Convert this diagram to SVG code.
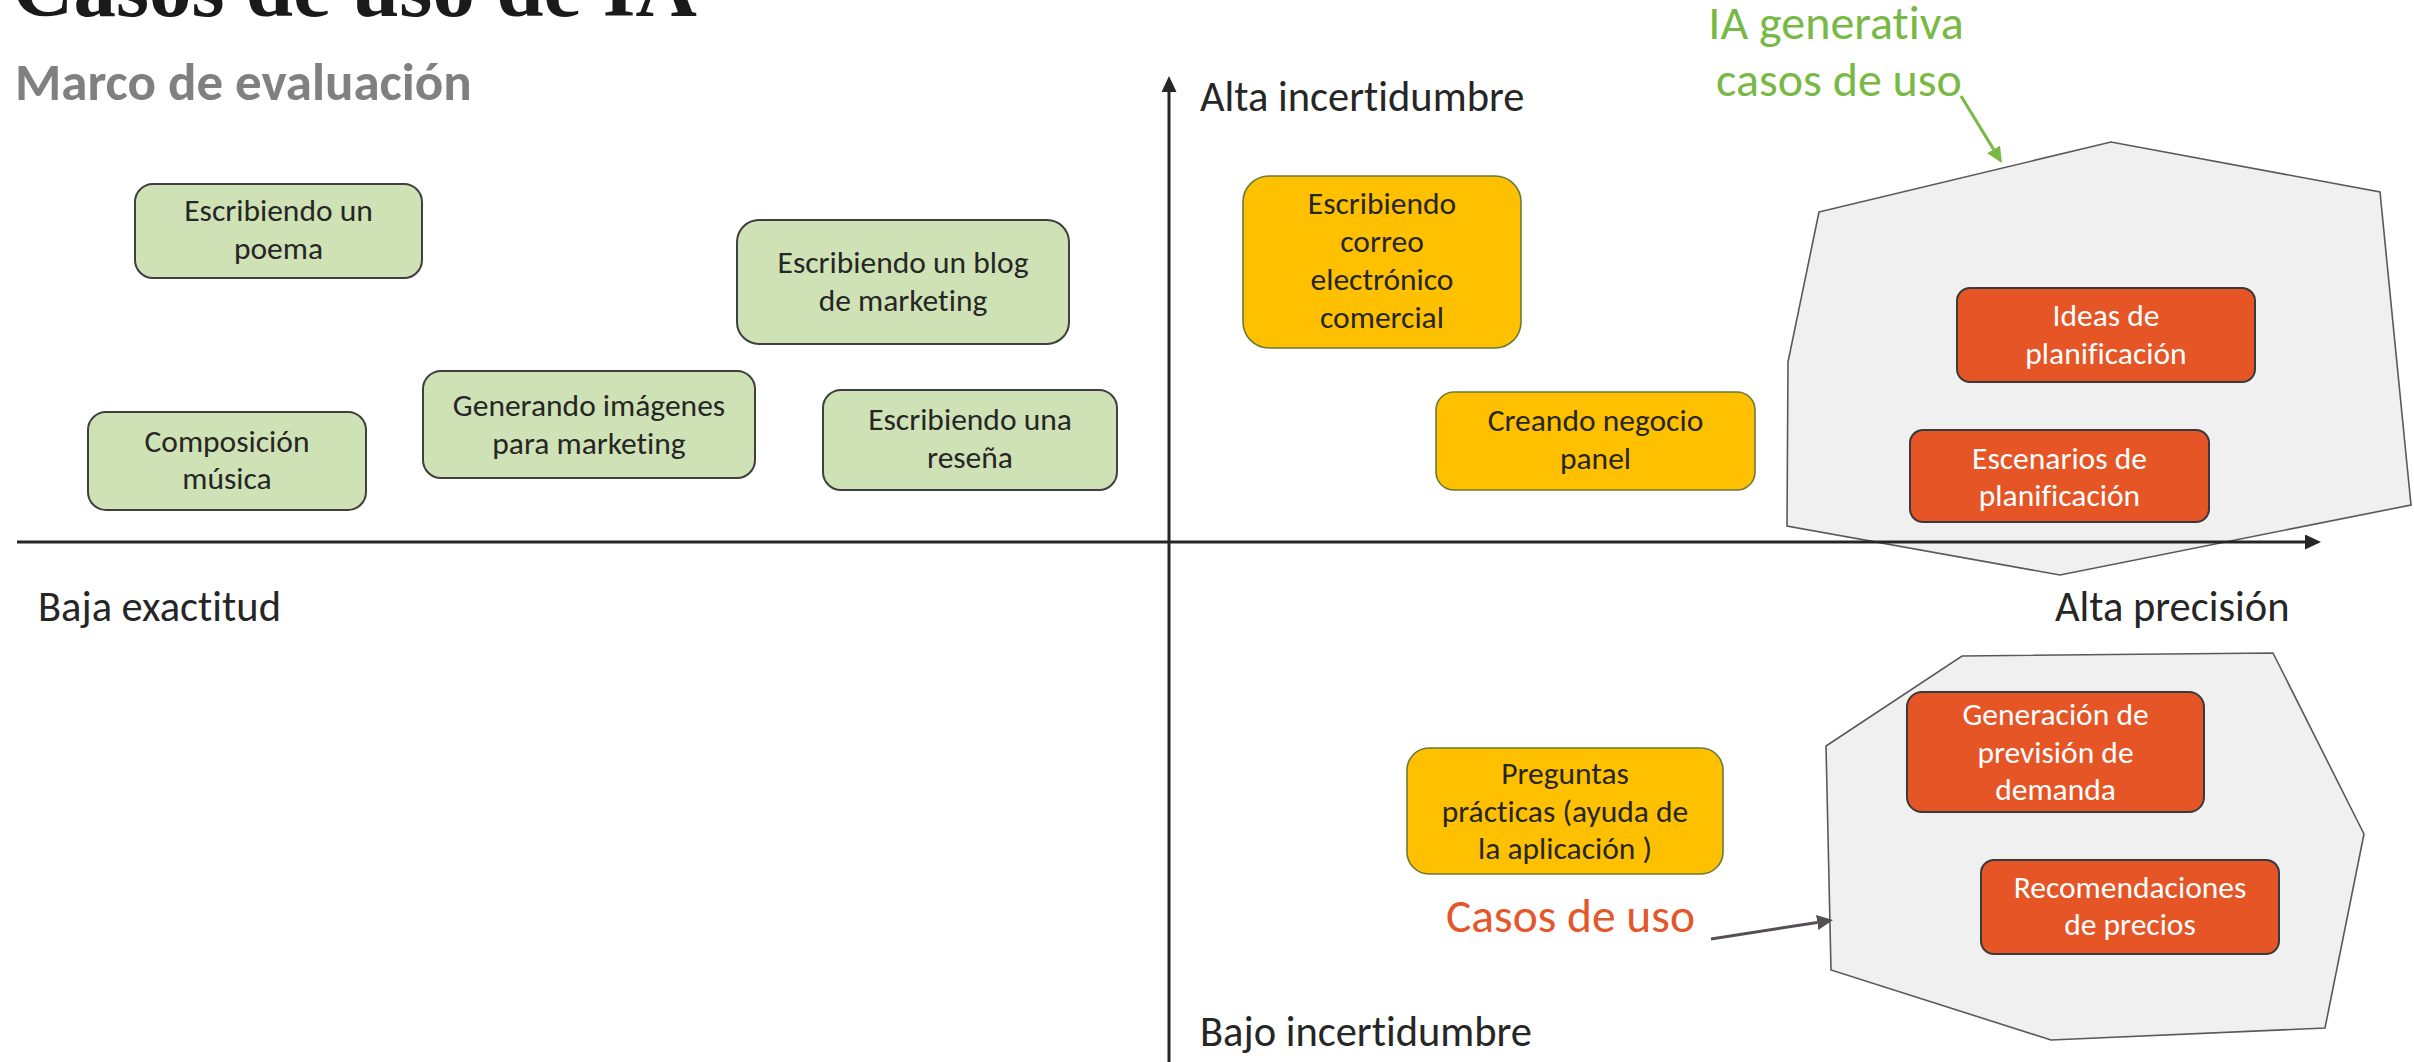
<svg xmlns="http://www.w3.org/2000/svg" width="2414" height="1062" viewBox="0 0 2414 1062">
<style>
  .t { font-family: Carlito, Lato, "Open Sans", sans-serif; fill: #262626; font-variant-ligatures: none; }
  .box { font-size: 31.5px; text-anchor: middle; }
  .axl { font-size: 42.5px; }
  .g rect { fill: #cfe2b5; stroke: #3f3f3f; stroke-width: 2; }
  .o rect { fill: #ffc000; stroke: #6b7a38; stroke-width: 1.6; }
  .r rect { fill: #e55526; stroke: #3a3a3a; stroke-width: 2; }
  .r text { fill: #ffffff; }
  .poly { fill: #f0f0f0; stroke: #595959; stroke-width: 1.6; }
  .axis { stroke: #262626; stroke-width: 3; fill: none; }
</style>
<defs>
  <marker id="ahK" markerUnits="userSpaceOnUse" markerWidth="16" markerHeight="15" refX="0" refY="7.5" orient="auto">
    <path d="M0,0 L16,7.5 L0,15 z" fill="#262626"/>
  </marker>
  <marker id="ahG" markerUnits="userSpaceOnUse" markerWidth="16" markerHeight="15" refX="0" refY="7.5" orient="auto">
    <path d="M0,0 L16,7.5 L0,15 z" fill="#78b946"/>
  </marker>
  <marker id="ahP" markerUnits="userSpaceOnUse" markerWidth="16" markerHeight="15" refX="0" refY="7.5" orient="auto">
    <path d="M0,0 L16,7.5 L0,15 z" fill="#574d55"/>
  </marker>
</defs>
<rect width="2414" height="1062" fill="#ffffff"/>

<text x="12" y="16" font-family="'Liberation Serif', serif" font-weight="bold" font-size="85" fill="#1a1a1a">Casos de uso de IA</text>
<text class="t" x="15" y="100" font-size="53" font-weight="bold" style="fill:#808080">Marco de evaluación</text>

<g id="zone-generative">
  <polygon class="poly" points="1819,212 2111,142 2380,192 2411,505 2060,575 1787,526 1788,362"/>
</g>
<g id="zone-usecases">
  <polygon class="poly" points="1962,656 2273,653 2364,834 2325,1028 2051,1040 1831,970 1826,746"/>
</g>

<g id="connectors">
  <line class="axis" x1="17" y1="542" x2="2305" y2="542" marker-end="url(#ahK)"/>
  <line class="axis" x1="1169" y1="1062" x2="1169" y2="92" marker-end="url(#ahK)"/>
  <line x1="1961" y1="96" x2="1993.6" y2="149.4" stroke="#78b946" stroke-width="3" marker-end="url(#ahG)"/>
  <line x1="1711" y1="939" x2="1817.2" y2="922.5" stroke="#574d55" stroke-width="3" marker-end="url(#ahP)"/>
</g>

<g id="axis-labels" class="t axl">
  <text x="1200" y="111">Alta incertidumbre</text>
  <text x="38" y="621">Baja exactitud</text>
  <text x="2055" y="621">Alta precisión</text>
  <text x="1200" y="1046">Bajo incertidumbre</text>
</g>

<g id="label-genai" class="t" font-size="48" text-anchor="middle" style="fill:#78b946">
  <text x="1836" y="39">IA generativa</text>
  <text x="1839" y="96">casos de uso</text>
</g>
<g id="label-casos" class="t" font-size="47.5" style="fill:#e5562a">
  <text x="1446" y="932">Casos de uso</text>
</g>

<g id="n-poema" class="g">
  <rect x="135" y="184" width="287" height="94" rx="18"/>
  <text class="t box" x="278.5" y="221">Escribiendo un</text>
  <text class="t box" x="278.5" y="259">poema</text>
</g>
<g id="n-musica" class="g">
  <rect x="88" y="412" width="278" height="98" rx="18"/>
  <text class="t box" x="227" y="452">Composición</text>
  <text class="t box" x="227" y="489">música</text>
</g>
<g id="n-imagenes" class="g">
  <rect x="423" y="371" width="332" height="107" rx="18"/>
  <text class="t box" x="589" y="416">Generando imágenes</text>
  <text class="t box" x="589" y="454">para marketing</text>
</g>
<g id="n-blog" class="g">
  <rect x="737" y="220" width="332" height="124" rx="22"/>
  <text class="t box" x="903" y="273">Escribiendo un blog</text>
  <text class="t box" x="903" y="311">de marketing</text>
</g>
<g id="n-resena" class="g">
  <rect x="823" y="390" width="294" height="100" rx="18"/>
  <text class="t box" x="970" y="430">Escribiendo una</text>
  <text class="t box" x="970" y="468">reseña</text>
</g>

<g id="n-correo" class="o">
  <rect x="1243" y="176" width="278" height="172" rx="26"/>
  <text class="t box" x="1382" y="214">Escribiendo</text>
  <text class="t box" x="1382" y="252">correo</text>
  <text class="t box" x="1382" y="290">electrónico</text>
  <text class="t box" x="1382" y="328">comercial</text>
</g>
<g id="n-panel" class="o">
  <rect x="1436" y="392" width="319" height="98" rx="18"/>
  <text class="t box" x="1595.5" y="431">Creando negocio</text>
  <text class="t box" x="1595.5" y="469">panel</text>
</g>
<g id="n-preguntas" class="o">
  <rect x="1407" y="748" width="316" height="126" rx="22"/>
  <text class="t box" x="1565" y="784">Preguntas</text>
  <text class="t box" x="1565" y="822">prácticas (ayuda de</text>
  <text class="t box" x="1565" y="859">la aplicación )</text>
</g>

<g id="n-ideas" class="r">
  <rect x="1957" y="288" width="298" height="94" rx="13"/>
  <text class="t box" x="2106" y="326">Ideas de</text>
  <text class="t box" x="2106" y="364">planificación</text>
</g>
<g id="n-escenarios" class="r">
  <rect x="1910" y="430" width="299" height="92" rx="13"/>
  <text class="t box" x="2059.5" y="469">Escenarios de</text>
  <text class="t box" x="2059.5" y="506">planificación</text>
</g>
<g id="n-prevision" class="r">
  <rect x="1907" y="692" width="297" height="120" rx="15"/>
  <text class="t box" x="2055.5" y="725">Generación de</text>
  <text class="t box" x="2055.5" y="763">previsión de</text>
  <text class="t box" x="2055.5" y="800">demanda</text>
</g>
<g id="n-precios" class="r">
  <rect x="1981" y="860" width="298" height="94" rx="13"/>
  <text class="t box" x="2130" y="898">Recomendaciones</text>
  <text class="t box" x="2130" y="935">de precios</text>
</g>
</svg>
